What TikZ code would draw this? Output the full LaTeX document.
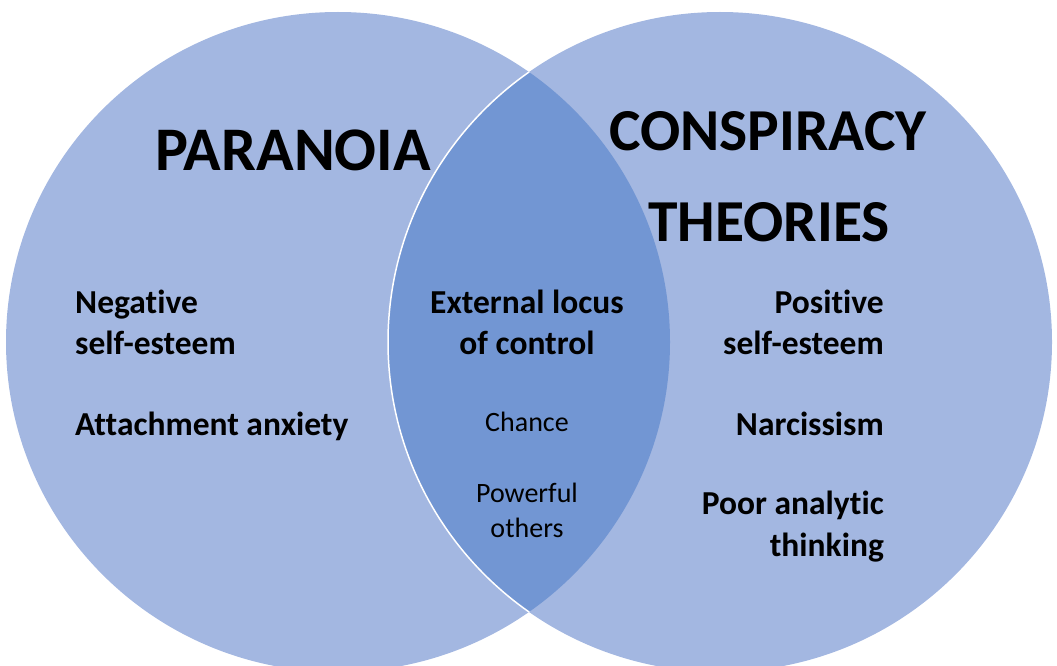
\documentclass[tikz,border=0pt]{standalone}
\usepackage{fontspec}
\setmainfont{Carlito}[Ligatures={NoCommon,NoRare,NoContextual}]
\definecolor{setlight}{RGB}{163,183,225}
\definecolor{setdark}{RGB}{114,150,211}
\begin{document}
\begin{tikzpicture}[x=1pt,y=-1pt,
  setfill/.style={fill=setlight},
  lens/.style={fill=setdark, draw=white, line width=1.5pt},
  title/.style={font=\fontsize{62}{72}\selectfont\bfseries, inner sep=0pt},
  titler/.style={font=\fontsize{59.5}{72}\selectfont\bfseries, inner sep=0pt},
  item/.style={font=\fontsize{33.5}{42}\selectfont\bfseries, inner sep=0pt},
  sub/.style={font=\fontsize{28}{34}\selectfont, inner sep=0pt}]
\useasboundingbox (0,0) rectangle (1057,666);
% sets
\fill[setfill] (338,342) ellipse [x radius=332pt, y radius=330pt];
\fill[setfill] (720,342) ellipse [x radius=332pt, y radius=330pt];
\begin{scope}
  \clip (338,342) ellipse [x radius=332pt, y radius=330pt];
  \filldraw[lens] (720,342) ellipse [x radius=332pt, y radius=330pt];
\end{scope}
% titles
\node[title, anchor=base] (par) at (293,170) {PARANOIA};
\node[titler, anchor=base] (con1) at (768,150) {CONSPIRACY};
\node[titler, anchor=base] (con2) at (769,241) {THEORIES};
% left
\node[item, anchor=base west] (l1) at (75,313) {Negative};
\node[item, anchor=base west] (l2) at (75,354) {self-esteem};
\node[item, anchor=base west] (l3) at (75,435) {Attachment anxiety};
% middle
\node[item, anchor=base] (m1) at (527,313) {External locus};
\node[item, anchor=base] (m2) at (527,354) {of control};
\node[sub, anchor=base] (m3) at (527,431) {Chance};
\node[sub, anchor=base] (m4) at (527,502) {Powerful};
\node[sub, anchor=base] (m5) at (527,537) {others};
% right
\node[item, anchor=base east] (r1) at (884,313) {Positive};
\node[item, anchor=base east] (r2) at (884,354) {self-esteem};
\node[item, anchor=base east] (r3) at (884,435) {Narcissism};
\node[item, anchor=base east] (r4) at (884,514) {Poor analytic};
\node[item, anchor=base east] (r5) at (884,556) {thinking};
\end{tikzpicture}
\end{document}
